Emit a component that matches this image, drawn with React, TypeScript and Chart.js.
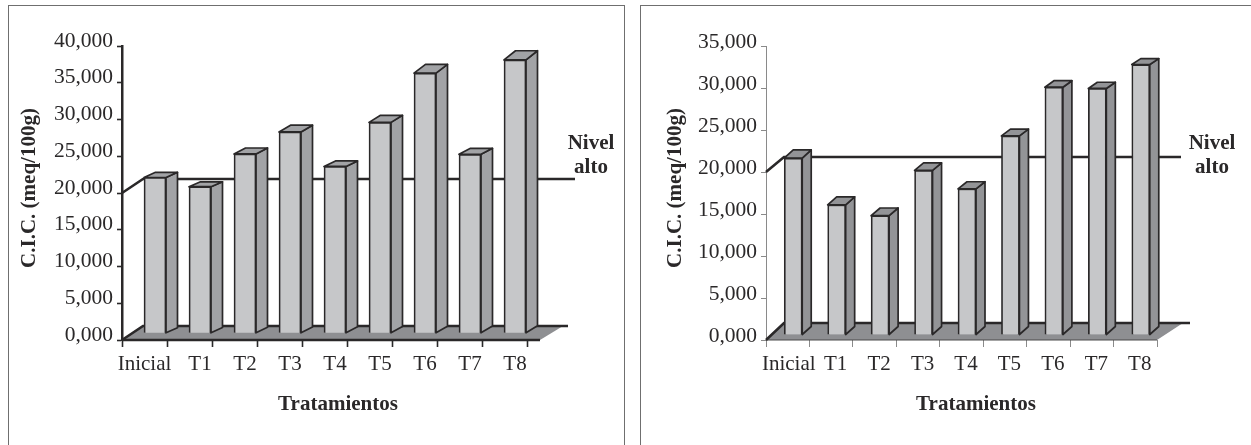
import React, { useEffect, useRef } from "react";
import { Chart, registerables } from "chart.js";

Chart.register(...registerables);

const categories = ["Inicial", "T1", "T2", "T3", "T4", "T5", "T6", "T7", "T8"];
const leftValues = [21.2, 19.95, 24.4, 27.4, 22.7, 28.7, 35.4, 24.35, 37.2];
const rightValues = [21.06, 15.5, 14.2, 19.6, 17.4, 23.7, 29.5, 29.35, 32.2];
const leftMax = 40;
const rightMax = 35;
const tickStep = 5;
const nivelAlto = 20;
const yTitle = "C.I.C. (meq/100g)";
const xTitle = "Tratamientos";
const nivelLines = ["Nivel", "alto"];

const INK = "#2a2829";
const SERIF = "'Liberation Serif', serif";

type Style = {
  canvasLeft: number; canvasWidth: number;
  left: number; right: number;
  barWidth: number; shiftX: number; shiftY: number;
  sideDx: number; sideColor: string;
  topRise: (v: number, i: number) => number;
  baseRise: (i: number) => number;
  floorEnd: number; floorRise: number; floorDx: number; floorBackEnd: number; floorGreyEnd: number;
  frontWidth: number; frontColor: string;
  nivelRise: number; nivelEnd: number; nivelDx: number;
  labelShift: number; firstLabelShift: number; yLabelLift: number;
  axisWidth: number; axisColor: string;
  yTitleX: number; xTitleX: number; nivelX: number;
};

const leftStyle: Style = {
  canvasLeft: 0, canvasWidth: 632, left: 122, right: 527,
  barWidth: 22, shiftX: 10.5, shiftY: 6.7, sideDx: 11.5, sideColor: "#a2a3a6",
  topRise: (v) => v * 0.245, baseRise: (i) => 5 + i * 0.25,
  floorEnd: 540, floorRise: 14, floorDx: 21, floorBackEnd: 568, floorGreyEnd: 563,
  frontWidth: 2.6, frontColor: INK,
  nivelRise: 14, nivelEnd: 575, nivelDx: 21,
  labelShift: 10.5, firstLabelShift: -10.5, yLabelLift: 5,
  axisWidth: 2.5, axisColor: INK, yTitleX: 35, xTitleX: 338, nivelX: 591,
};

const rightStyle: Style = {
  canvasLeft: 632, canvasWidth: 619, left: 134, right: 525,
  barWidth: 18, shiftX: 5.5, shiftY: 5, sideDx: 9, sideColor: "#939497",
  topRise: (_v, i) => 8.3 - i * 0.3, baseRise: () => 8,
  floorEnd: 525, floorRise: 17, floorDx: 18, floorBackEnd: 558, floorGreyEnd: 551,
  frontWidth: 1.2, frontColor: "#4a4a4a",
  nivelRise: 15, nivelEnd: 549, nivelDx: 18,
  labelShift: 4.5, firstLabelShift: -3.5, yLabelLift: 4,
  axisWidth: 1, axisColor: "#8a8a8a", yTitleX: 48.5, xTitleX: 344, nivelX: 580,
};

const depthPlugin = (s: Style) => ({
  id: "depth",
  beforeDraw(chart: any) {
    const items = chart.scales.x.getLabelItems();
    if (items[0] && !items[0].__moved) {
      items[0].options.translation[0] += s.firstLabelShift;
      items[0].__moved = true;
    }
    chart.scales.y.getLabelItems().forEach((item: any) => {
      if (!item.__moved) {
        item.options.translation[1] -= s.yLabelLift;
        item.__moved = true;
      }
    });
  },
  beforeDatasetsDraw(chart: any) {
    const { ctx, scales } = chart;
    const zero = scales.y.getPixelForValue(0);
    const nivel = scales.y.getPixelForValue(nivelAlto);
    ctx.save();
    ctx.fillStyle = "#8e8f92";
    ctx.beginPath();
    ctx.moveTo(s.left, zero);
    ctx.lineTo(s.left + s.floorDx, zero - s.floorRise);
    ctx.lineTo(s.floorGreyEnd, zero - s.floorRise);
    ctx.lineTo(s.floorEnd, zero);
    ctx.closePath();
    ctx.fill();
    ctx.strokeStyle = s.frontColor;
    ctx.lineWidth = s.frontWidth;
    ctx.beginPath();
    ctx.moveTo(s.left, zero);
    ctx.lineTo(s.floorEnd, zero);
    ctx.stroke();
    ctx.strokeStyle = INK;
    ctx.lineWidth = 2.6;
    ctx.beginPath();
    ctx.moveTo(s.left, zero);
    ctx.lineTo(s.left + s.floorDx, zero - s.floorRise);
    ctx.lineTo(s.floorBackEnd, zero - s.floorRise);
    ctx.stroke();
    ctx.beginPath();
    ctx.moveTo(s.left, nivel);
    ctx.lineTo(s.left + s.nivelDx, nivel - s.nivelRise);
    ctx.lineTo(s.nivelEnd, nivel - s.nivelRise);
    ctx.stroke();
    ctx.restore();
  },
  beforeDatasetDraw(chart: any, args: any) {
    const { ctx } = chart;
    const values = chart.data.datasets[args.index].data as number[];
    ctx.save();
    ctx.translate(s.shiftX, -s.shiftY);
    ctx.strokeStyle = INK;
    ctx.lineWidth = 1.7;
    ctx.lineJoin = "round";
    ctx.fillStyle = s.sideColor;
    args.meta.data.forEach((bar: any, i: number) => {
      const r = bar.x + s.barWidth / 2;
      const l = bar.x - s.barWidth / 2;
      const up = s.topRise(values[i], i);
      ctx.beginPath();
      ctx.moveTo(r, bar.y);
      ctx.lineTo(r + s.sideDx, bar.y - up);
      ctx.lineTo(r + s.sideDx, bar.base - s.baseRise(i));
      ctx.lineTo(r, bar.base);
      ctx.closePath();
      ctx.fill();
      ctx.stroke();
      ctx.beginPath();
      ctx.moveTo(l, bar.y);
      ctx.lineTo(l + s.sideDx, bar.y - up);
      ctx.lineTo(r + s.sideDx, bar.y - up);
      ctx.lineTo(r, bar.y);
      ctx.closePath();
      ctx.fill();
      ctx.stroke();
    });
  },
  afterDatasetDraw(chart: any) {
    chart.ctx.restore();
  },
  afterDraw(chart: any) {
    const { ctx } = chart;
    ctx.save();
    ctx.fillStyle = INK;
    ctx.font = `bold 21px ${SERIF}`;
    ctx.textAlign = "center";
    ctx.textBaseline = "alphabetic";
    ctx.fillText(xTitle, s.xTitleX, 410);
    ctx.fillText(nivelLines[0], s.nivelX, 149);
    ctx.fillText(nivelLines[1], s.nivelX, 172.5);
    ctx.translate(s.yTitleX, 188);
    ctx.rotate(-Math.PI / 2);
    ctx.fillText(yTitle, 0, 0);
    ctx.restore();
  },
});

function Panel({ values, max, s }: { values: number[]; max: number; s: Style }) {
  const ref = useRef<HTMLCanvasElement>(null);
  useEffect(() => {
    const chart = new Chart(ref.current as HTMLCanvasElement, {
      type: "bar",
      data: {
        labels: categories,
        datasets: [{
          label: yTitle,
          data: values,
          backgroundColor: "#c6c7c9",
          borderColor: INK,
          borderWidth: 1.7,
          barThickness: s.barWidth,
          clip: false,
        } as any],
      },
      plugins: [depthPlugin(s)],
      options: {
        animation: false,
        responsive: false,
        devicePixelRatio: 1,
        layout: { padding: { left: 0, top: 46, right: s.canvasWidth - s.right, bottom: 0 } },
        plugins: { legend: { display: false }, tooltip: { enabled: false }, title: { display: false } },
        scales: {
          x: {
            type: "category",
            afterFit: (scale: any) => { scale.height = 105; },
            grid: { drawOnChartArea: false, tickLength: 7, tickColor: s.axisColor === INK ? INK : "#8a8a8a", tickWidth: s.axisWidth === 1 ? 1 : 1.6 },
            border: { display: false },
            ticks: {
              color: INK, autoSkip: false, maxRotation: 0, padding: 4.5, labelOffset: s.labelShift,
              font: { family: SERIF, size: 21 },
            },
          },
          y: {
            min: 0, max,
            afterFit: (scale: any) => { scale.width = s.left; },
            grid: { drawOnChartArea: false, tickLength: 5, tickColor: s.axisColor, tickWidth: s.axisWidth === 1 ? 1 : 1.6 },
            border: { display: true, color: s.axisColor, width: s.axisWidth },
            ticks: {
              stepSize: tickStep, color: INK, padding: 4,
              font: { family: SERIF, size: 21.5 },
              callback: (v: any) => Number(v).toFixed(3).replace(".", ","),
            },
          },
        },
      } as any,
    });
    return () => chart.destroy();
  }, []);
  return (
    <canvas
      ref={ref}
      width={s.canvasWidth}
      height={445}
      style={{ position: "absolute", left: s.canvasLeft, top: 0, display: "block" }}
    />
  );
}

export default function App() {
  const frame = "1.5px solid #6f6f6f";
  return (
    <div style={{ position: "fixed", left: 0, top: 0, width: 1251, height: 445, overflow: "hidden", background: "#fff" }}>
      <div style={{ position: "absolute", left: 8, top: 5, width: 615, height: 460, borderLeft: frame, borderTop: frame, borderRight: frame }} />
      <div style={{ position: "absolute", left: 640, top: 5, width: 640, height: 460, borderLeft: frame, borderTop: frame }} />
      <Panel values={leftValues} max={leftMax} s={leftStyle} />
      <Panel values={rightValues} max={rightMax} s={rightStyle} />
    </div>
  );
}
